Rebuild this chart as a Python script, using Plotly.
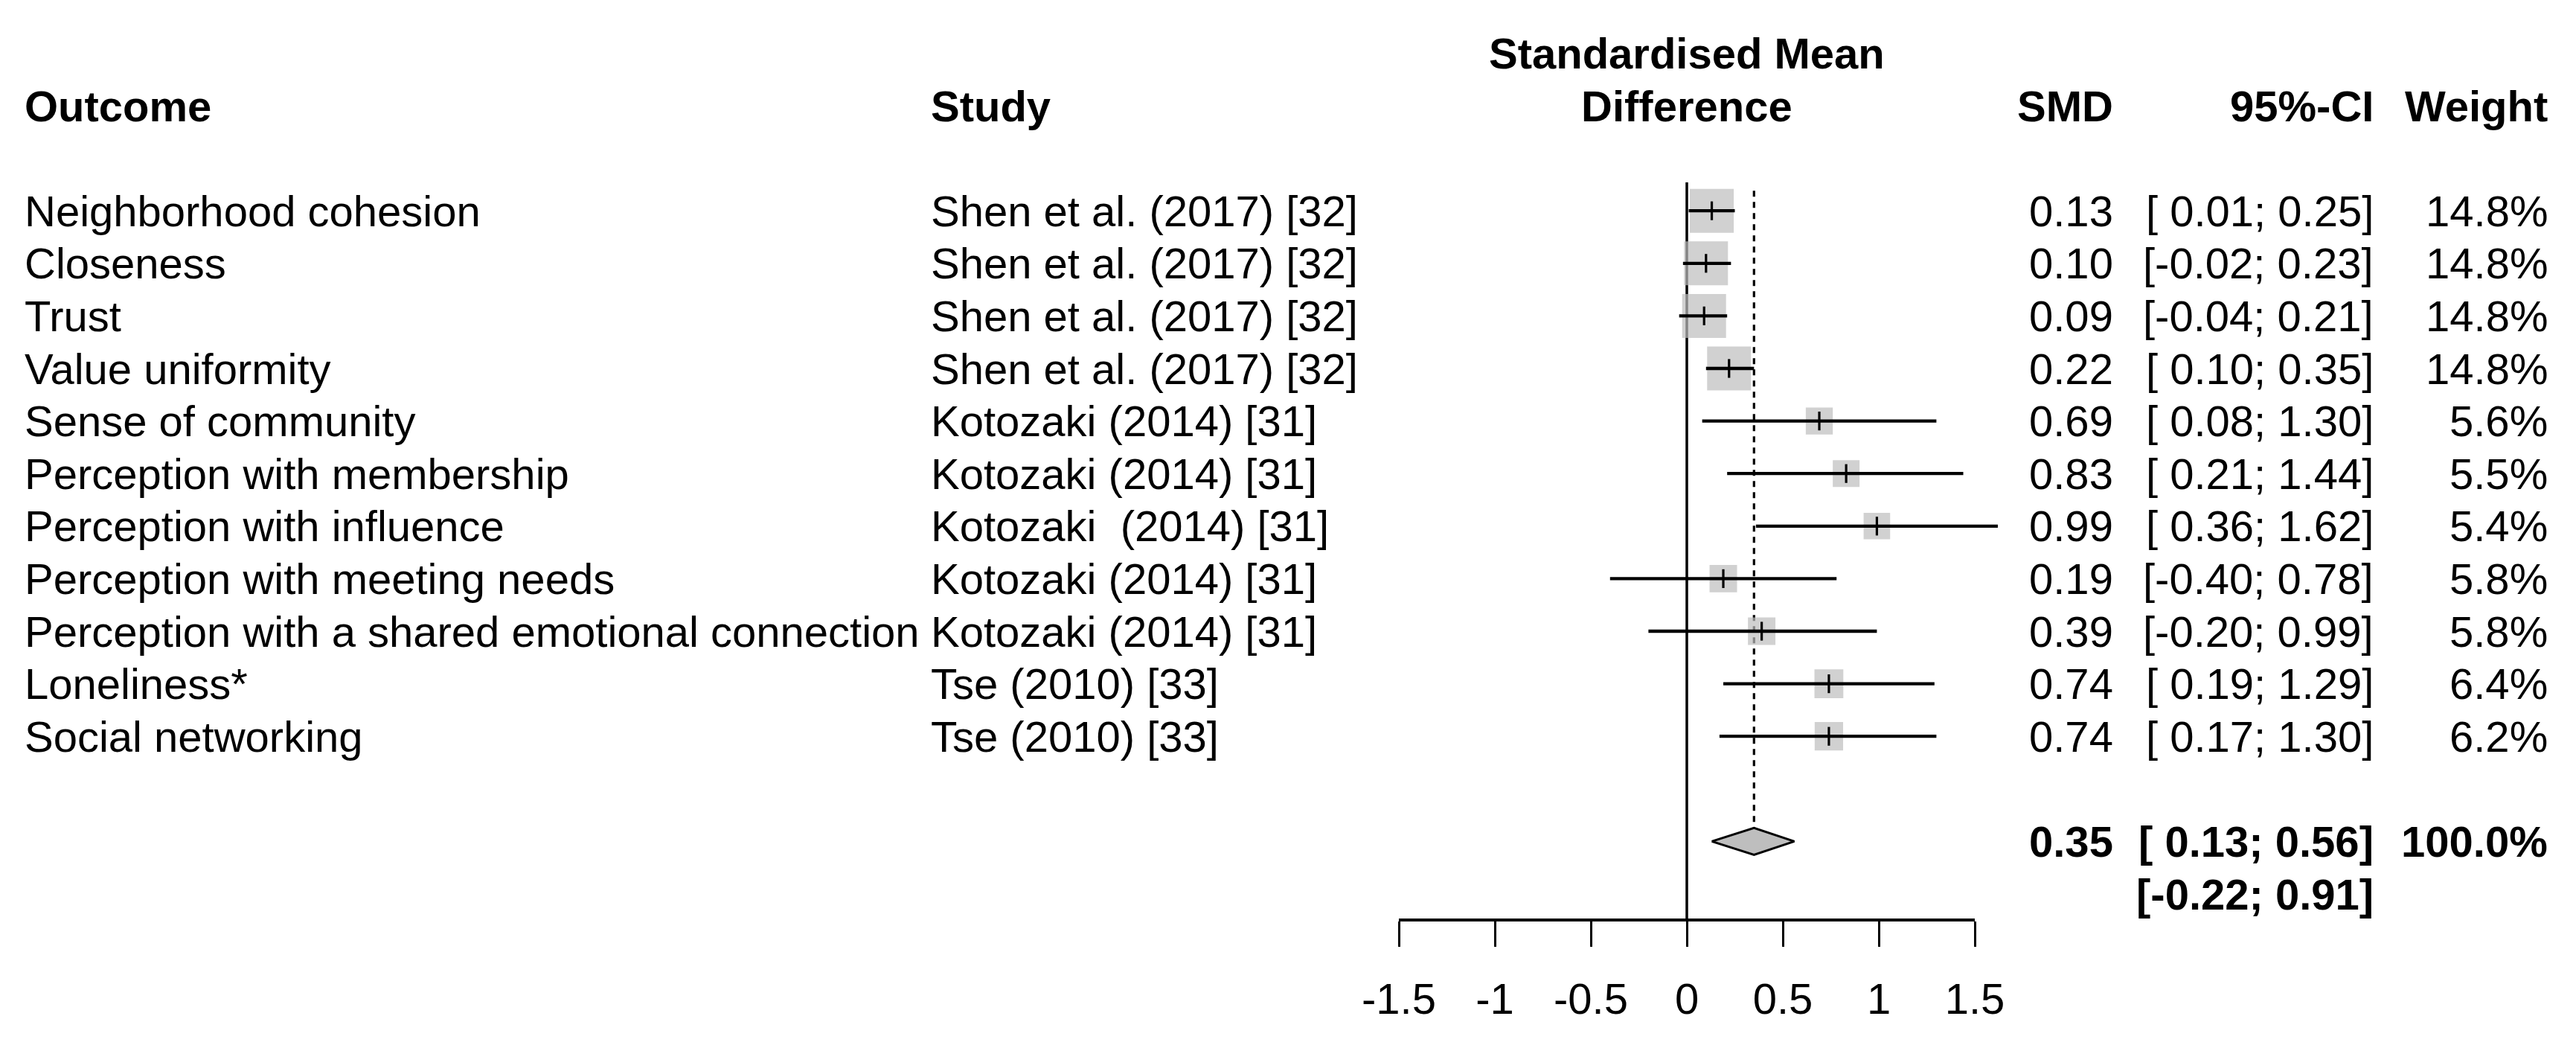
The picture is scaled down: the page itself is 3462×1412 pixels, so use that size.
import plotly.graph_objects as go

outcomes = [
    "Neighborhood cohesion",
    "Closeness",
    "Trust",
    "Value uniformity",
    "Sense of community",
    "Perception with membership",
    "Perception with influence",
    "Perception with meeting needs",
    "Perception with a shared emotional connection",
    "Loneliness*",
    "Social networking",
]
studies = [
    "Shen et al. (2017) [32]",
    "Shen et al. (2017) [32]",
    "Shen et al. (2017) [32]",
    "Shen et al. (2017) [32]",
    "Kotozaki (2014) [31]",
    "Kotozaki (2014) [31]",
    "Kotozaki\u00a0 (2014) [31]",
    "Kotozaki (2014) [31]",
    "Kotozaki (2014) [31]",
    "Tse (2010) [33]",
    "Tse (2010) [33]",
]
smd = [0.13, 0.10, 0.09, 0.22, 0.69, 0.83, 0.99, 0.19, 0.39, 0.74, 0.74]
ci_low = [0.01, -0.02, -0.04, 0.10, 0.08, 0.21, 0.36, -0.40, -0.20, 0.19, 0.17]
ci_high = [0.25, 0.23, 0.21, 0.35, 1.30, 1.44, 1.62, 0.78, 0.99, 1.29, 1.30]
weight = [14.8, 14.8, 14.8, 14.8, 5.6, 5.5, 5.4, 5.8, 5.8, 6.4, 6.2]

pooled_smd = 0.35
pooled_low = 0.13
pooled_high = 0.56
pred_low = -0.22
pred_high = 0.91

tick_vals = [-1.5, -1, -0.5, 0, 0.5, 1, 1.5]
tick_text = ["-1.5", "-1", "-0.5", "0", "0.5", "1", "1.5"]

# page geometry (pixels)
W, H = 3462, 1412
X0_PX, UNIT_PX = 2259, 258        # where SMD = 0 sits, px per SMD unit
ROW0_PX, ROW_PX = 134, 70.6       # header row, row height
COL_OUTCOME, COL_STUDY = 23, 1241
COL_SMD, COL_CI, COL_W = 2834, 3184, 3418
FONT = "Liberation Sans, Arial, sans-serif"
FS = 58
GREY = "#bebebe"

rows = [i + 2 for i in range(len(smd))]
sum_row = rows[-1] + 2
pred_row = sum_row + 1
axis_row = pred_row + 0.5


def fmt_ci(lo, hi):
    return "[{:5.2f}; {:.2f}]".format(lo, hi)


fig = go.Figure()

# zero reference line
fig.add_trace(go.Scatter(x=[0, 0], y=[rows[0] - 0.54, axis_row], mode="lines",
                         line=dict(color="black", width=3.5), hoverinfo="skip"))
# pooled estimate dashed line
fig.add_trace(go.Scatter(x=[pooled_smd, pooled_smd], y=[rows[0] - 0.38, sum_row - 0.26],
                         mode="lines", line=dict(color="black", width=3.2, dash="8px,7px"),
                         hoverinfo="skip"))

# squares sized by weight
fig.add_trace(go.Scatter(
    x=smd, y=rows, mode="markers",
    marker=dict(symbol="square", color=GREY, size=[59 * (w / 14.8) ** 0.5 for w in weight],
                line=dict(width=0)),
    hoverinfo="skip"))

# confidence intervals
cx, cy = [], []
for lo, hi, r in zip(ci_low, ci_high, rows):
    cx += [lo, hi, None]
    cy += [r, r, None]
fig.add_trace(go.Scatter(x=cx, y=cy, mode="lines", line=dict(color="black", width=4.3),
                         hoverinfo="skip"))

# point estimate ticks
fig.add_trace(go.Scatter(
    x=smd, y=rows, mode="markers",
    marker=dict(symbol="line-ns", size=18, line=dict(color="black", width=3.2)),
    hoverinfo="skip"))

# pooled diamond
dh = 0.255
fig.add_trace(go.Scatter(
    x=[pooled_low, pooled_smd, pooled_high, pooled_smd, pooled_low],
    y=[sum_row, sum_row - dh, sum_row, sum_row + dh, sum_row],
    mode="lines", fill="toself", fillcolor=GREY,
    line=dict(color="black", width=3), hoverinfo="skip"))

# dummy trace so the SMD axis gets drawn
fig.add_trace(go.Scatter(x=[None], y=[None], xaxis="x2", yaxis="y", hoverinfo="skip"))

ann = []


def txt(s, px, row, align, bold=False, xref="paper"):
    ann.append(dict(
        text="<b>%s</b>" % s if bold else s,
        x=px / W if xref == "paper" else px, xref=xref, y=row, yref="y",
        xanchor=align, yanchor="middle", showarrow=False,
        font=dict(family=FONT, size=FS, color="black")))


# header
txt("Outcome", COL_OUTCOME, 0, "left", True)
txt("Study", COL_STUDY, 0, "left", True)
txt("Standardised Mean", 0, -1, "center", True, xref="x")
txt("Difference", 0, 0, "center", True, xref="x")
txt("SMD", COL_SMD, 0, "right", True)
txt("95%-CI", COL_CI, 0, "right", True)
txt("Weight", COL_W, 0, "right", True)

for i, r in enumerate(rows):
    txt(outcomes[i], COL_OUTCOME, r, "left")
    txt(studies[i], COL_STUDY, r, "left")
    txt("%.2f" % smd[i], COL_SMD, r, "right")
    txt(fmt_ci(ci_low[i], ci_high[i]), COL_CI, r, "right")
    txt("%.1f%%" % weight[i], COL_W, r, "right")

txt("%.2f" % pooled_smd, COL_SMD, sum_row, "right", True)
txt(fmt_ci(pooled_low, pooled_high), COL_CI, sum_row, "right", True)
txt("100.0%", COL_W, sum_row, "right", True)
txt(fmt_ci(pred_low, pred_high), COL_CI, pred_row, "right", True)

axis_px = ROW0_PX + ROW_PX * axis_row

fig.update_layout(
    template="none",
    width=W, height=H, autosize=False,
    margin=dict(l=0, r=0, t=0, b=0, pad=0),
    paper_bgcolor="white", plot_bgcolor="rgba(0,0,0,0)",
    showlegend=False,
    annotations=ann,
    xaxis=dict(range=[-X0_PX / UNIT_PX, (W - X0_PX) / UNIT_PX], domain=[0, 1],
               visible=False, fixedrange=True, automargin=False),
    yaxis=dict(range=[(H - ROW0_PX) / ROW_PX, -ROW0_PX / ROW_PX], domain=[0, 1],
               visible=False, fixedrange=True, automargin=False),
    xaxis2=dict(
        domain=[(X0_PX + UNIT_PX * tick_vals[0]) / W, (X0_PX + UNIT_PX * tick_vals[-1]) / W],
        range=[tick_vals[0], tick_vals[-1]],
        anchor="free", position=1 - axis_px / H, automargin=False,
        showline=True, linecolor="black", linewidth=4,
        ticks="outside", ticklen=34, tickwidth=3.2, tickcolor="black",
        tickvals=tick_vals, ticktext=tick_text, ticklabelstandoff=20,
        tickfont=dict(family=FONT, size=FS, color="black"),
        showgrid=False, zeroline=False, fixedrange=True),
)

fig.write_html("out.html")
